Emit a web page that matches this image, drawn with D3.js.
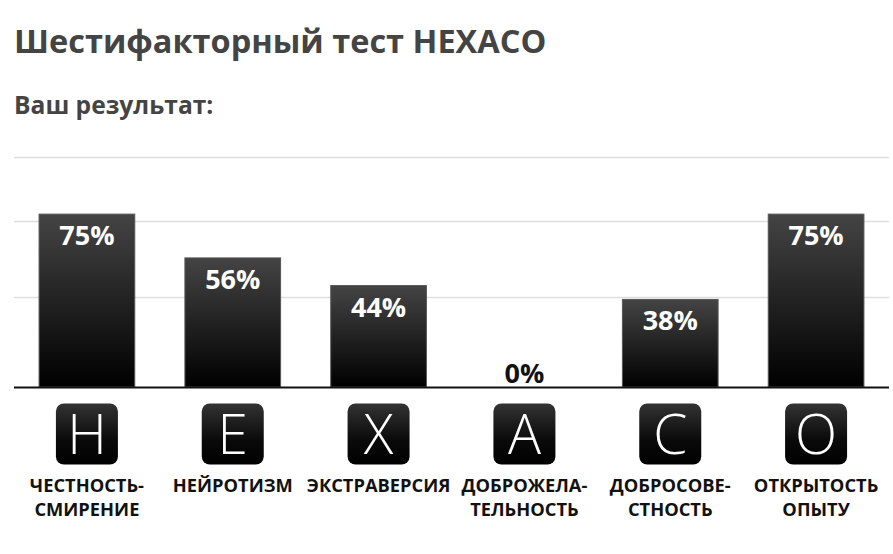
<!DOCTYPE html>
<html><head><meta charset="utf-8">
<script src="https://cdn.jsdelivr.net/npm/d3@7"></script>
<style>
html,body{margin:0;padding:0;background:#fff;}
svg{display:block;}
</style></head>
<body>
<svg id="chart" width="893" height="554"></svg>
<script>
const categories = ["H","E","X","A","C","O"];
const values = [75, 56, 44, 0, 38, 75];
const valueLabels = ["75%","56%","44%","0%","38%","75%"];
const labelLines = [
  ["ЧЕСТНОСТЬ-","СМИРЕНИЕ"],
  ["НЕЙРОТИЗМ"],
  ["ЭКСТРАВЕРСИЯ"],
  ["ДОБРОЖЕЛА-","ТЕЛЬНОСТЬ"],
  ["ДОБРОСОВЕ-","СТНОСТЬ"],
  ["ОТКРЫТОСТЬ","ОПЫТУ"]
];
const gridValues = [39, 72, 100];
const title = "Шестифакторный тест HEXACO";
const subtitle = "Ваш результат:";

const svg = d3.select("#chart");
const defs = svg.append("defs");
const g1 = defs.append("linearGradient").attr("id","barGrad").attr("x1",0).attr("y1",0).attr("x2",0).attr("y2",1);
g1.append("stop").attr("offset","0%").attr("stop-color","#444");
g1.append("stop").attr("offset","100%").attr("stop-color","#000");
const g2 = defs.append("linearGradient").attr("id","iconGrad").attr("x1",0).attr("y1",0).attr("x2",0).attr("y2",1);
g2.append("stop").attr("offset","0%").attr("stop-color","#333");
g2.append("stop").attr("offset","60%").attr("stop-color","#0a0a0a");
g2.append("stop").attr("offset","100%").attr("stop-color","#000");

svg.append("text").attr("x",14).attr("y",53).text(title)
  .attr("font-family","Open Sans").attr("font-weight",700).attr("font-size",32.5).attr("fill","#444");
svg.append("text").attr("x",14).attr("y",114).text(subtitle)
  .attr("font-family","Open Sans").attr("font-weight",700).attr("font-size",24.6).attr("fill","#444");

const x = d3.scaleBand().domain(categories).range([14,889]).paddingInner(0.337).paddingOuter(0.1685);
const y = d3.scaleLinear().domain([0,100]).range([387, 156.5]);

// gridlines
svg.append("g").selectAll("line").data(gridValues).join("line")
  .attr("x1",14).attr("x2",889)
  .attr("y1",d=>Math.round(y(d))+0.5).attr("y2",d=>Math.round(y(d))+0.5)
  .attr("stroke","#ddd").attr("stroke-width",1.5);

// bars
svg.append("g").selectAll("rect").data(values).join("rect")
  .attr("x",(d,i)=>x(categories[i])+0.5)
  .attr("y",d=>y(d))
  .attr("width",x.bandwidth()-1)
  .attr("height",d=>y(0)-y(d))
  .attr("fill","url(#barGrad)")
  .attr("stroke","#555").attr("stroke-width",1)
  .style("display",d=>d>0?null:"none");

// baseline
svg.append("line").attr("x1",14).attr("x2",889).attr("y1",y(0)+0.5).attr("y2",y(0)+0.5)
  .attr("stroke","#111").attr("stroke-width",2);

// value labels
svg.append("g").selectAll("text").data(values).join("text")
  .attr("x",(d,i)=>x(categories[i])+x.bandwidth()/2)
  .attr("y",d=>d>0 ? y(d)+31 : y(0)-4)
  .attr("text-anchor","middle")
  .attr("font-family","Open Sans").attr("font-weight",700).attr("font-size",27)
  .attr("fill",d=>d>0?"#fff":"#111")
  .text((d,i)=>valueLabels[i]);

// icons
const icons = svg.append("g").selectAll("g").data(categories).join("g")
  .attr("transform",d=>`translate(${x(d)+x.bandwidth()/2},434)`);
icons.append("rect").attr("x",-31).attr("y",-30.5).attr("width",62).attr("height",61)
  .attr("rx",8).attr("fill","url(#iconGrad)");
icons.append("text").attr("y",20).attr("text-anchor","middle")
  .attr("font-family","Open Sans").attr("font-weight",300).attr("font-size",55)
  .attr("fill","#fff").text(d=>d);

// category labels
const lab = svg.append("g").selectAll("text").data(labelLines).join("text")
  .attr("x",(d,i)=>x(categories[i])+x.bandwidth()/2)
  .attr("text-anchor","middle")
  .attr("font-family","Open Sans").attr("font-weight",700).attr("font-size",18.3)
  .attr("fill","#111");
lab.selectAll("tspan").data(d=>d).join("tspan")
  .attr("x",function(){return this.parentNode.getAttribute("x");})
  .attr("y",(d,j)=>492+j*23.5)
  .text(d=>d);
</script>
</body></html>
